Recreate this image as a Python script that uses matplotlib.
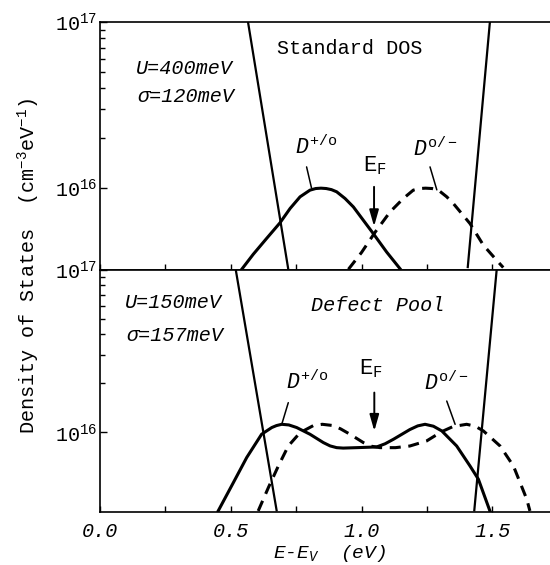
import numpy as np
import matplotlib
matplotlib.use("Agg")
import matplotlib.pyplot as plt
from matplotlib.ticker import FixedLocator, FixedFormatter, NullFormatter

plt.rcParams['font.family'] = ['Liberation Mono', 'DejaVu Sans Mono', 'DejaVu Sans']
plt.rcParams['mathtext.fontset'] = 'custom'
plt.rcParams['mathtext.rm'] = 'Liberation Mono'
plt.rcParams['mathtext.it'] = 'Liberation Mono:italic'
plt.rcParams['mathtext.bf'] = 'Liberation Mono:bold'

SCALE = 1e15  # DOS values below are in units of 1e15 cm^-3 eV^-1

# ---------------- Standard DOS (top panel) ----------------
std_dp_E = [0.542, 0.586, 0.637, 0.688, 0.727, 0.765, 0.803, 0.825, 0.845, 0.865, 0.885,
            0.905, 0.937, 0.969, 1.007, 1.045, 1.096, 1.147]
std_dp_N = [3.25, 4.00, 4.98, 6.18, 7.55, 8.87, 9.73, 9.95, 10.0, 9.95, 9.80,
            9.51, 8.67, 7.71, 6.41, 5.33, 4.13, 3.28]
std_dm_E = [0.950, 1.000, 1.052, 1.109, 1.160, 1.198, 1.222, 1.245, 1.270, 1.294, 1.326,
            1.351, 1.415, 1.466, 1.517, 1.542]
std_dm_N = [3.25, 4.10, 5.43, 7.19, 8.67, 9.73, 9.95, 10.0, 9.95, 9.73, 8.87,
            8.09, 6.12, 4.54, 3.68, 3.33]
std_vb_E = [0.566, 0.720]
std_vb_N = [100.0, 3.25]
std_cb_E = [1.406, 1.491]
std_cb_N = [3.30, 100.0]

# ---------------- Defect Pool (bottom panel) ----------------
pool_dp_E = [0.452, 0.510, 0.561, 0.618, 0.657, 0.675, 0.695, 0.722, 0.752, 0.803, 0.854,
             0.880, 0.905, 0.930, 0.982, 1.058, 1.090, 1.122, 1.185, 1.215, 1.243, 1.275,
             1.307, 1.364, 1.415, 1.447, 1.491]
pool_dp_N = [3.29, 4.91, 7.00, 9.73, 10.7, 11.0, 11.2, 11.1, 10.7, 9.73, 8.65,
             8.25, 8.05, 8.00, 8.05, 8.13, 8.50, 9.06, 10.4, 10.95, 11.2, 10.9,
             10.2, 8.24, 6.21, 5.15, 3.29]
pool_dm_E = [0.605, 0.644, 0.682, 0.720, 0.765, 0.816, 0.850, 0.892, 0.920, 0.956, 1.007,
             1.040, 1.071, 1.130, 1.185, 1.249, 1.280, 1.313, 1.350, 1.402, 1.435, 1.466,
             1.530, 1.581, 1.632, 1.644]
pool_dm_N = [3.29, 4.58, 6.21, 8.24, 9.95, 11.0, 11.2, 11.0, 10.5, 9.73, 8.65,
             8.20, 8.05, 8.05, 8.24, 8.85, 9.50, 10.2, 10.85, 11.2, 10.9, 10.2,
             8.24, 6.21, 3.88, 3.29]
pool_vb_E = [0.519, 0.676]
pool_vb_N = [100.0, 3.27]
pool_cb_E = [1.431, 1.517]
pool_cb_N = [3.27, 100.0]

E_F_std = 1.048
E_F_pool = 1.049

xmajor = [0.0, 0.5, 1.0, 1.5]
xmajor_labels = ['0.0', '0.5', '1.0', '1.5']
xminor = [0.25, 0.75, 1.25]
ymajor = [1e16, 1e17]
ymajor_labels = [r'$\mathit{10^{16}}$', r'$\mathit{10^{17}}$']
yminor = [2e16, 3e16, 4e16, 5e16, 6e16, 7e16, 8e16, 9e16]

W, H = 550, 565
fig = plt.figure(figsize=(W / 100, H / 100), dpi=100)
left = 100 / W
ax1 = fig.add_axes([left, 1 - 269.5 / H, 1 - left, (269.5 - 22) / H])
ax2 = fig.add_axes([left, 1 - 512 / H, 1 - left, (512 - 269.5) / H])

FS = 14.5
for ax in (ax1, ax2):
    ax.set_yscale('log')
    ax.set_xlim(0, 450 / 261.5)
    ax.set_ylim(3.24e15, 1e17)
    ax.spines['right'].set_visible(False)
    for s in ('left', 'top', 'bottom'):
        ax.spines[s].set_linewidth(1.2)
    ax.xaxis.set_major_locator(FixedLocator(xmajor))
    ax.xaxis.set_minor_locator(FixedLocator(xminor))
    ax.yaxis.set_major_locator(FixedLocator(ymajor))
    ax.yaxis.set_major_formatter(FixedFormatter(ymajor_labels))
    ax.yaxis.set_minor_locator(FixedLocator(yminor))
    ax.yaxis.set_minor_formatter(NullFormatter())
    ax.tick_params(axis='x', which='both', direction='in', length=4.5, width=1.0,
                   top=False, bottom=True)
    ax.tick_params(axis='y', which='major', direction='in', length=5, width=1.0,
                   labelsize=FS, pad=2, right=False)
    ax.tick_params(axis='y', which='minor', direction='in', length=3.5, width=1.0,
                   right=False)

ax1.tick_params(axis='x', which='both', labelbottom=False)
ax2.xaxis.set_major_formatter(FixedFormatter(xmajor_labels))
ax2.tick_params(axis='x', which='major', labelsize=FS, pad=7)
for lbl in ax2.get_xticklabels():
    lbl.set_fontstyle('italic')

lw_c = 2.2
lw_t = 1.6
dash = (0, (3.6, 2.5))

def to_n(vals):
    return np.asarray(vals) * SCALE

kw_c = dict(color='k', lw=lw_c, solid_joinstyle='round', dash_joinstyle='round')

# Top panel
ax1.plot(std_vb_E, to_n(std_vb_N), color='k', lw=lw_t, solid_capstyle='butt')
ax1.plot(std_cb_E, to_n(std_cb_N), color='k', lw=lw_t, solid_capstyle='butt')
ax1.plot(std_dp_E, to_n(std_dp_N), **kw_c)
ax1.plot(std_dm_E, to_n(std_dm_N), linestyle=dash, **kw_c)

# Bottom panel
ax2.plot(pool_vb_E, to_n(pool_vb_N), color='k', lw=lw_t, solid_capstyle='butt')
ax2.plot(pool_cb_E, to_n(pool_cb_N), color='k', lw=lw_t, solid_capstyle='butt')
ax2.plot(pool_dp_E, to_n(pool_dp_N), **kw_c)
ax2.plot(pool_dm_E, to_n(pool_dm_N), linestyle=dash, **kw_c)

# Texts, top
ax1.text(0.956, 10**16.843, 'Standard DOS', fontsize=FS, ha='center', va='center')
ax1.text(0.321, 10**16.723, 'U=400meV', fontsize=FS, ha='center', va='center', style='italic')
ax1.text(0.329, 10**16.554, 'σ=120meV', fontsize=FS, ha='center', va='center', style='italic')
ax1.text(0.826, 10**16.245, r'$\mathit{D}^{\mathrm{+/o}}$', fontsize=FS + 1, ha='center', va='center')
ax1.text(1.281, 10**16.235, r'$\mathit{D}^{\mathrm{o/-}}$', fontsize=FS + 1, ha='center', va='center')
ax1.text(1.052, 10**16.135, r'$\mathrm{E_F}$', fontsize=FS + 1.5, ha='center', va='center')
ax1.annotate('', xy=(0.809, 10**16.0), xytext=(0.790, 10**16.128),
             arrowprops=dict(arrowstyle='-', color='k', lw=1.1, shrinkA=0, shrinkB=0))
ax1.annotate('', xy=(1.288, 10**15.99), xytext=(1.262, 10**16.128),
             arrowprops=dict(arrowstyle='-', color='k', lw=1.1, shrinkA=0, shrinkB=0))
ax1.annotate('', xy=(E_F_std, 10**15.77), xytext=(E_F_std, 10**16.008),
             arrowprops=dict(arrowstyle='-|>,head_length=0.7,head_width=0.2', color='k',
                             lw=1.4, mutation_scale=14, shrinkA=0, shrinkB=0))

# Texts, bottom
ax2.text(1.063, 10**16.779, 'Defect Pool', fontsize=FS, ha='center', va='center', style='italic')
ax2.text(0.279, 10**16.798, 'U=150meV', fontsize=FS, ha='center', va='center', style='italic')
ax2.text(0.287, 10**16.595, 'σ=157meV', fontsize=FS, ha='center', va='center', style='italic')
ax2.text(0.792, 10**16.31, r'$\mathit{D}^{\mathrm{+/o}}$', fontsize=FS + 1, ha='center', va='center')
ax2.text(1.323, 10**16.30, r'$\mathit{D}^{\mathrm{o/-}}$', fontsize=FS + 1, ha='center', va='center')
ax2.text(1.036, 10**16.39, r'$\mathrm{E_F}$', fontsize=FS + 1.5, ha='center', va='center')
ax2.annotate('', xy=(0.695, 10**16.049), xytext=(0.720, 10**16.182),
             arrowprops=dict(arrowstyle='-', color='k', lw=1.1, shrinkA=0, shrinkB=0))
ax2.annotate('', xy=(1.358, 10**16.049), xytext=(1.326, 10**16.192),
             arrowprops=dict(arrowstyle='-', color='k', lw=1.1, shrinkA=0, shrinkB=0))
ax2.annotate('', xy=(E_F_pool, 10**16.008), xytext=(E_F_pool, 10**16.244),
             arrowprops=dict(arrowstyle='-|>,head_length=0.7,head_width=0.2', color='k',
                             lw=1.4, mutation_scale=14, shrinkA=0, shrinkB=0))

# Axis labels
fig.text(29 / W, 1 - 266 / H, r'Density of States  (cm$^{-3}$eV$^{-1}$)',
         rotation=90, ha='center', va='center', fontsize=FS)
fig.text(330 / W, 1 - 554 / H, r'$\mathit{E}$-$\mathit{E_V}$  (eV)', ha='center', va='center',
         fontsize=FS - 0.5, style='italic')

fig.savefig('out.png', dpi=100)
